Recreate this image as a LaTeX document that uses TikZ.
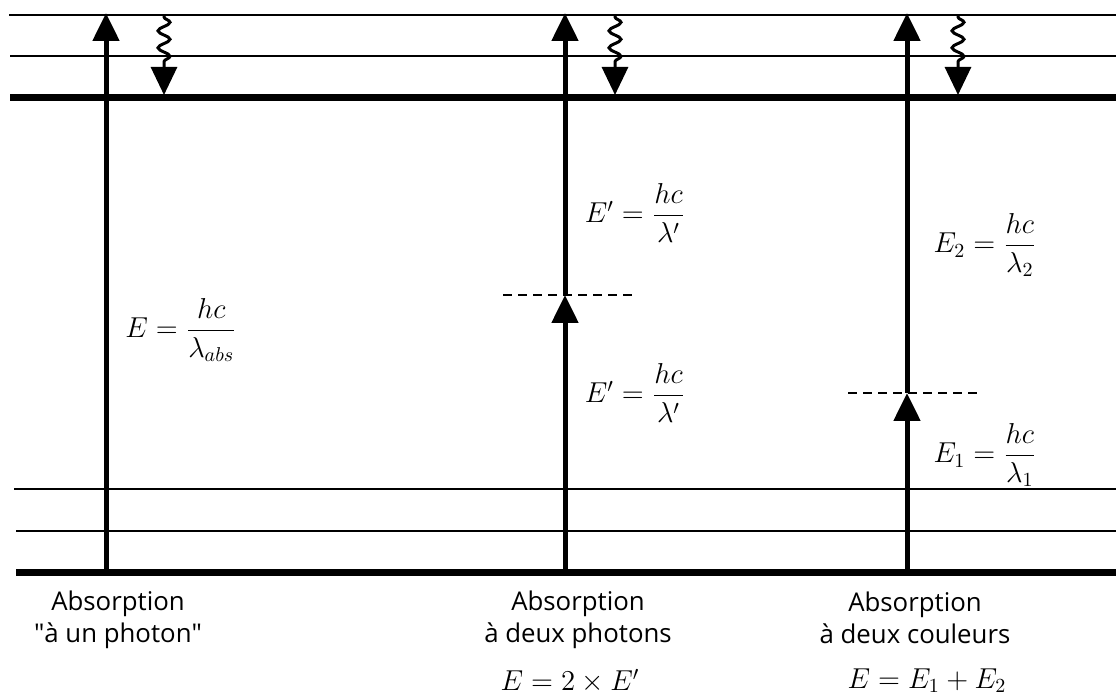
\documentclass[tikz,border=0pt]{standalone}
\usepackage{amsmath}
\usepackage{fontspec}
\setmainfont{Open Sans}
\usetikzlibrary{arrows.meta, decorations.pathmorphing}

\begin{document}
\begin{tikzpicture}[
      x=0.5pt, y=-0.5pt,
      lvl/.style={line width=1pt},
      lvlthick/.style={line width=3.5pt},
      absarr/.style={line width=2.5pt, -{Triangle[length=14pt, width=13pt]}},
      relarr/.style={line width=1.5pt, -{Triangle[length=14pt, width=13pt]},
                     decorate, decoration={snake, segment length=8.5pt,
                     amplitude=3pt, pre length=0.5pt, post length=14pt}},
      virt/.style={line width=1pt, dash pattern=on 4.5pt off 3pt},
      txt/.style={align=center, font=\fontsize{12.9}{16}\selectfont},
      eq/.style={font=\fontsize{14.5}{17}\selectfont},
    ]
    \useasboundingbox (0,0) rectangle (1116,695);

    % niveaux excites
    \draw[lvl]      (9,15)  -- (1116,15);
    \draw[lvl]      (10,56) -- (1116,56);
    \draw[lvlthick] (10,98) -- (1116,98);
    % niveaux fondamentaux
    \draw[lvl]      (14,489) -- (1116,489);
    \draw[lvl]      (16,531) -- (1116,531);
    \draw[lvlthick] (16,573) -- (1116,573);

    % niveaux virtuels
    \coordinate (v2-l) at (503,295);
    \coordinate (v2-r) at (638,295);
    \coordinate (v3-l) at (848,393);
    \coordinate (v3-r) at (980,393);
    \draw[virt] (v2-l) -- (v2-r);
    \draw[virt] (v3-l) -- (v3-r);

    \coordinate (g1) at (106,573);
    \coordinate (t1) at (106,13);
    \coordinate (g2) at (565,573);
    \coordinate (m2) at (565,295);
    \coordinate (t2) at (565,13);
    \coordinate (g3) at (907,573);
    \coordinate (m3) at (907,393);
    \coordinate (t3) at (907,13);

    \coordinate (r1-a) at (164,16);
    \coordinate (r1-b) at (164,95);
    \coordinate (r2-a) at (615,16);
    \coordinate (r2-b) at (615,95);
    \coordinate (r3-a) at (958,16);
    \coordinate (r3-b) at (958,95);

    \draw[absarr] (g1) -- (t1);
    \draw[absarr] (g2) -- (m2);
    \draw[absarr] (m2) -- (t2);
    \draw[absarr] (g3) -- (m3);
    \draw[absarr] (m3) -- (t3);

    \draw[relarr] (r1-a) -- (r1-b);
    \draw[relarr] (r2-a) -- (r2-b);
    \draw[relarr] (r3-a) -- (r3-b);

    % energies
    \node[eq] (e-abs) at (181,330) {$E=\dfrac{hc}{\lambda_{abs}}$};
    \node[eq] (ep-up) at (635,213) {$E'=\dfrac{hc}{\lambda'}$};
    \node[eq] (ep-lo) at (635,393) {$E'=\dfrac{hc}{\lambda'}$};
    \node[eq] (e-2)   at (985,245) {$E_2=\dfrac{hc}{\lambda_2}$};
    \node[eq] (e-1)   at (985,455) {$E_1=\dfrac{hc}{\lambda_1}$};

    % legendes
    \node[txt] (lab1) at (118,620) {Absorption\\\textquotedbl à un photon\textquotedbl};
    \node[txt] (lab2) at (578,620) {Absorption\\à deux photons};
    \node[txt] (lab3) at (915,618) {Absorption\\à deux couleurs};
    \node[eq]  (sum2) at (570,681) {$E=2\times E'$};
    \node[eq]  (sum3) at (927,681) {$E=E_1+E_2$};
  \end{tikzpicture}
\end{document}
